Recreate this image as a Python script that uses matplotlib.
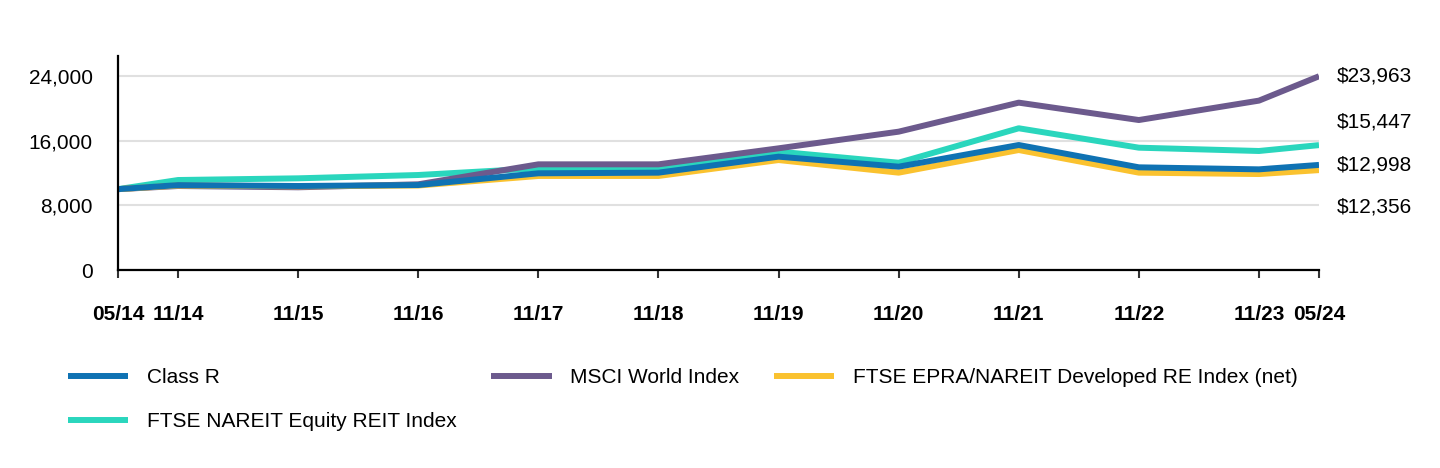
import matplotlib
matplotlib.use("Agg")
import matplotlib.pyplot as plt

plt.rcParams['font.family'] = ['Liberation Sans', 'DejaVu Sans']

# months since 05/14
months = [0, 6, 18, 30, 42, 54, 66, 78, 90, 102, 114, 120]
tick_labels = ["05/14", "11/14", "11/15", "11/16", "11/17", "11/18",
               "11/19", "11/20", "11/21", "11/22", "11/23", "05/24"]

class_r = [10000, 10500, 10390, 10510, 11960, 12040, 14020, 12780, 15460, 12700, 12450, 12998]
msci = [10000, 10390, 10230, 10600, 13070, 13070, 15050, 17110, 20700, 18550, 20950, 23963]
nareit = [10000, 11130, 11340, 11750, 12580, 12580, 14640, 13270, 17530, 15130, 14720, 15447]
epra = [10000, 10450, 10350, 10450, 11630, 11630, 13600, 12040, 14840, 12040, 11870, 12356]

end_labels = ["$23,963", "$15,447", "$12,998", "$12,356"]
end_label_y = [23963, 18350, 12998, 7850]

c_blue = "#0f72b3"
c_purple = "#6c5a8d"
c_teal = "#2ad6bd"
c_yellow = "#fac22f"

fig = plt.figure(figsize=(14.4, 4.68), dpi=100)
ax = fig.add_axes([118/1440, 1 - 270/468, (1319-118)/1440, (270-56)/468])

lw = 4.3
ax.plot(months, nareit, color=c_teal, lw=lw, label="FTSE NAREIT Equity REIT Index", solid_capstyle='butt')
ax.plot(months, msci, color=c_purple, lw=lw, label="MSCI World Index", solid_capstyle='butt')
ax.plot(months, epra, color=c_yellow, lw=lw, label="FTSE EPRA/NAREIT Developed RE Index (net)", solid_capstyle='butt')
ax.plot(months, class_r, color=c_blue, lw=lw, label="Class R", solid_capstyle='butt')

ax.set_xlim(0, 120)
ax.set_ylim(0, 26470)
ax.set_yticks([0, 8000, 16000, 24000])
ax.set_yticklabels(["0", "8,000", "16,000", "24,000"], fontsize=15)
ax.yaxis.grid(True, color="#e0e0e0", lw=1.5)
ax.set_axisbelow(True)
ax.tick_params(axis='y', length=0, pad=18)

ax.set_xticks(months)
ax.set_xticklabels(tick_labels, fontsize=15, fontweight='bold')
ax.tick_params(axis='x', length=6, width=1.5, pad=19, color="#333333")

for s in ["top", "right"]:
    ax.spines[s].set_visible(False)
ax.spines["left"].set_linewidth(1.6)
ax.spines["bottom"].set_linewidth(1.6)

for lab, yv in zip(end_labels, end_label_y):
    ax.annotate(lab, xy=(120, yv), xytext=(13, 0), textcoords="offset points",
                fontsize=15, va="center", ha="left", annotation_clip=False)

handles, labels = ax.get_legend_handles_labels()
order = [3, 0, 1, 2]
fig.legend([handles[i] for i in order], [labels[i] for i in order],
           loc="upper left", bbox_to_anchor=(68/1440, 1 - 368/468), ncol=3,
           frameon=False, fontsize=15, handlelength=2.9, handletextpad=0.9,
           columnspacing=1.65, labelspacing=1.2, borderpad=0, borderaxespad=0)

fig.savefig("out.png", dpi=100)
